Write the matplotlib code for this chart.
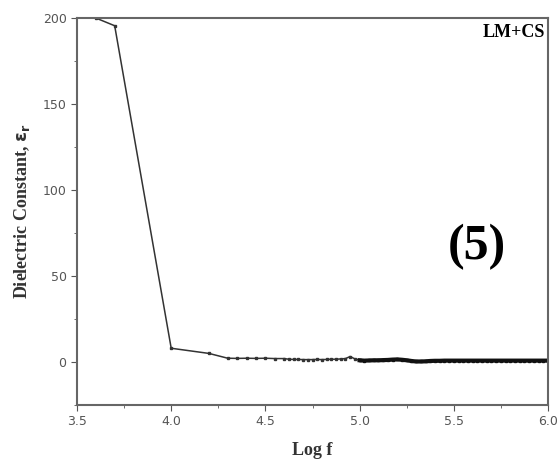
import matplotlib
matplotlib.use('Agg')
import matplotlib.pyplot as plt
from matplotlib.ticker import MultipleLocator

# Data
log_f = [3.60, 3.70, 4.00, 4.20, 4.30, 4.35, 4.40, 4.45, 4.50, 4.55, 4.60,
         4.625, 4.65, 4.675, 4.70, 4.725, 4.75, 4.775, 4.80, 4.825, 4.85,
         4.875, 4.90, 4.925, 4.95, 4.975, 5.00,
         5.025, 5.05, 5.075, 5.10, 5.125, 5.15, 5.175, 5.20, 5.225, 5.25,
         5.275, 5.30, 5.325, 5.35, 5.375, 5.40, 5.425, 5.45, 5.475, 5.50,
         5.525, 5.55, 5.575, 5.60, 5.625, 5.65, 5.675, 5.70, 5.725, 5.75,
         5.775, 5.80, 5.825, 5.85, 5.875, 5.90, 5.925, 5.95, 5.975, 6.00]
eps_r = [200.0, 195.5, 8.0, 5.0, 2.2, 2.1, 2.2, 2.1, 2.2, 2.0, 2.0,
         1.6, 1.5, 1.5, 1.4, 1.4, 1.4, 1.5, 1.4, 1.5, 1.6,
         1.6, 1.8, 2.0, 3.2, 1.8, 1.0,
         0.8, 0.9, 1.0, 1.0, 1.1, 1.2, 1.4, 1.5, 1.3, 1.0,
         0.6, 0.3, 0.3, 0.4, 0.6, 0.7, 0.7, 0.8, 0.8, 0.8,
         0.8, 0.8, 0.8, 0.8, 0.8, 0.8, 0.8, 0.8, 0.8, 0.8,
         0.8, 0.8, 0.8, 0.8, 0.8, 0.8, 0.8, 0.8, 0.8, 0.8]

fig = plt.figure(figsize=(5.6, 4.68), dpi=100)
ax = fig.add_axes([0.1375, 0.1346, 0.8411, 0.8269])

ax.plot(log_f[:27], eps_r[:27], color='#333333', lw=1.1,
        marker='s', markersize=2.0)
ax.plot(log_f[26:], eps_r[26:], color='#111111', lw=3.0,
        marker='s', markersize=2.0)

ax.set_xlim(3.5, 6.0)
ax.set_ylim(-25, 200)
ax.xaxis.set_major_locator(MultipleLocator(0.5))
ax.xaxis.set_minor_locator(MultipleLocator(0.25))
ax.yaxis.set_minor_locator(MultipleLocator(25))
ax.set_yticks([0, 50, 100, 150, 200])
ax.tick_params(which='both', direction='out', colors='#555555',
               labelcolor='#555555', labelsize=9)
ax.tick_params(which='major', length=4)
ax.tick_params(which='minor', length=2.5)
for sp in ax.spines.values():
    sp.set_color('#666666')
    sp.set_linewidth(1.5)

ax.set_xlabel('Log f', family='Liberation Serif', fontweight='bold',
              fontsize=13, color='#333333', labelpad=10)
ax.set_ylabel(r'Dielectric Constant, $\mathbf{\epsilon_r}$',
              family='Liberation Serif', fontweight='bold',
              fontsize=13, color='#333333', labelpad=8)

ax.text(0.993, 0.985, 'LM+CS', transform=ax.transAxes, ha='right', va='top',
        family='Liberation Serif', fontweight='bold', fontsize=13)
ax.text(0.849, 0.408, '(5)', transform=ax.transAxes, ha='center', va='center',
        family='Liberation Serif', fontweight='bold', fontsize=36)

fig.savefig('out.png', dpi=100)
